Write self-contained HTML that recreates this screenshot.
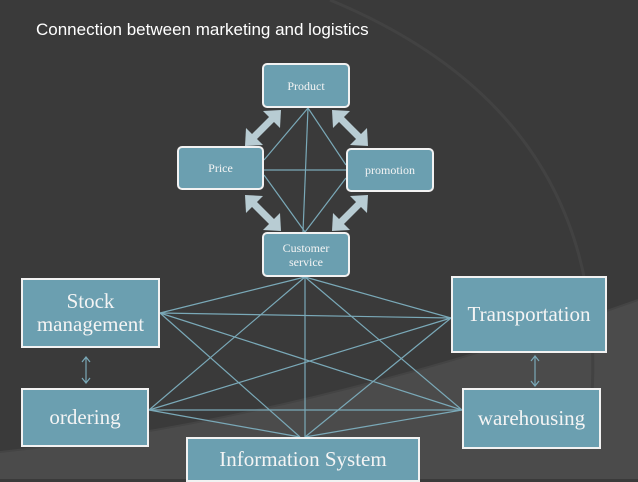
<!DOCTYPE html>
<html><head><style>
html,body{margin:0;padding:0;}
body{width:638px;height:479px;overflow:hidden;background:#3a3a3a;position:relative;font-family:"Liberation Serif",serif;}
.b{position:absolute;background:#6b9fb0;border:2px solid #f2f2f2;box-sizing:border-box;color:#f4f4f4;display:flex;align-items:center;justify-content:center;text-align:center;}
.r{border-radius:5px;font-size:12px;line-height:14px;}
.big{font-size:21px;line-height:23px;}
svg{position:absolute;left:0;top:0;}
</style></head><body>
<svg width="638" height="479">
<path d="M0 452 Q300 420 638 300 L638 479 L0 479 Z" fill="#4b4b4b"/>
<path d="M330 0 Q620 120 590 420" stroke="#424242" stroke-width="3" fill="none"/>
<path d="M0 452 Q300 420 638 300" stroke="#444" stroke-width="2" fill="none"/>
<g stroke="#7aa9b8" stroke-width="1.2">
<line x1="308" y1="108" x2="264" y2="160"/>
<line x1="308" y1="108" x2="346" y2="165"/>
<line x1="308" y1="108" x2="303" y2="232"/>
<line x1="264" y1="170" x2="346" y2="170"/>
<line x1="264" y1="175" x2="305" y2="232"/>
<line x1="346" y1="178" x2="305" y2="232"/>
<line x1="160" y1="313" x2="305" y2="277"/>
<line x1="160" y1="313" x2="451" y2="318"/>
<line x1="160" y1="313" x2="462" y2="410"/>
<line x1="160" y1="313" x2="300" y2="437"/>
<line x1="149" y1="410" x2="305" y2="277"/>
<line x1="149" y1="410" x2="451" y2="318"/>
<line x1="149" y1="410" x2="462" y2="410"/>
<line x1="149" y1="410" x2="300" y2="437"/>
<line x1="305" y1="277" x2="305" y2="437"/>
<line x1="305" y1="277" x2="451" y2="318"/>
<line x1="305" y1="277" x2="462" y2="410"/>
<line x1="305" y1="437" x2="451" y2="318"/>
<line x1="305" y1="437" x2="462" y2="410"/>
<line x1="86" y1="358" x2="86" y2="382"/>
<line x1="535" y1="357" x2="535" y2="385"/>
</g>
<g stroke="#7aa9b8" fill="none" stroke-width="1.2">
<path d="M82 362 L86 357 L90 362 M82 378 L86 383 L90 378"/>
<path d="M531 361 L535 356 L539 361 M531 381 L535 386 L539 381"/>
</g>
<g fill="#b8ccd3" stroke="#b8ccd3" stroke-width="7" stroke-linecap="butt">
<line x1="272" y1="119" x2="254" y2="137"/>
<line x1="341" y1="119" x2="359" y2="137"/>
<line x1="254" y1="204" x2="272" y2="222"/>
<line x1="359" y1="204" x2="341" y2="222"/>
</g>
<g fill="#b8ccd3">
<polygon points="281,110 280,128 263,111"/><polygon points="245,146 246,128 263,145"/>
<polygon points="332,110 350,111 333,128"/><polygon points="368,146 367,128 350,145"/>
<polygon points="245,195 263,196 246,213"/><polygon points="281,231 263,230 280,213"/>
<polygon points="368,195 367,213 350,196"/><polygon points="332,231 333,213 350,230"/>
</g>
</svg>
<div style="position:absolute;left:36px;top:20px;color:#fff;font-family:'Liberation Sans',sans-serif;font-size:17px;">Connection between marketing and logistics</div>
<div class="b r" style="left:262px;top:63px;width:88px;height:45px;">Product</div>
<div class="b r" style="left:177px;top:146px;width:87px;height:44px;">Price</div>
<div class="b r" style="left:346px;top:148px;width:88px;height:44px;">promotion</div>
<div class="b r" style="left:262px;top:232px;width:88px;height:45px;">Customer<br>service</div>
<div class="b big" style="left:21px;top:278px;width:139px;height:70px;">Stock<br>management</div>
<div class="b big" style="left:21px;top:388px;width:128px;height:59px;">ordering</div>
<div class="b big" style="left:186px;top:437px;width:234px;height:45px;">Information System</div>
<div class="b big" style="left:451px;top:276px;width:156px;height:77px;">Transportation</div>
<div class="b big" style="left:462px;top:388px;width:139px;height:61px;">warehousing</div>
</body></html>
